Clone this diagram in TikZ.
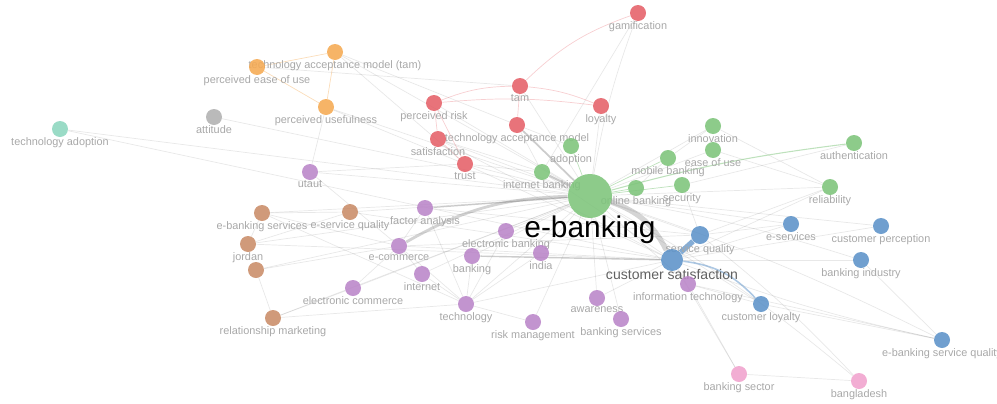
\documentclass[tikz,border=0pt]{standalone}
\usepackage{fontspec}
\setmainfont{Liberation Sans}
\usetikzlibrary{calc}
\definecolor{cred}{RGB}{229,96,104}
\definecolor{cgreen}{RGB}{125,196,122}
\definecolor{cblue}{RGB}{92,146,200}
\definecolor{cpurple}{RGB}{186,133,200}
\definecolor{corange}{RGB}{245,170,82}
\definecolor{cbrown}{RGB}{201,140,104}
\definecolor{cpink}{RGB}{240,162,205}
\definecolor{cteal}{RGB}{140,214,190}
\definecolor{cgray}{RGB}{176,176,176}
\definecolor{labelgray}{RGB}{168,168,168}
\pgfdeclarelayer{bg}
\pgfsetlayers{bg,main}
\tikzset{%
  kwnode/.style={circle, inner sep=0pt, minimum size=3.2mm, fill=#1, fill opacity=0.88, label distance=-0.6pt},
  kwlabel/.style={font=\fontsize{6.2}{7}\selectfont, text=labelgray, inner sep=0pt, fill opacity=1, text opacity=1},
  kwlink/.style={draw=gray, opacity=0.18, line width=0.4pt},
  kwstrong/.style={draw=gray, opacity=0.4, line width=#1},
}

\begin{document}
\begin{tikzpicture}[x=0.02cm, y=-0.02cm]
  \useasboundingbox (0,0) rectangle (997,403);
  % red cluster
  \node[kwnode=cred, label={[kwlabel]below:gamification}] (gam) at (638,13) {};
  \node[kwnode=cred, label={[kwlabel]below:perceived risk}] (prisk) at (434,103) {};
  \node[kwnode=cred, label={[kwlabel]below:tam}] (tam) at (520,86) {};
  \node[kwnode=cred, label={[kwlabel]below:loyalty}] (loy) at (601,106) {};
  \node[kwnode=cred, label={[kwlabel]below:technology acceptance model}] (tacc) at (517,125) {};
  \node[kwnode=cred, label={[kwlabel]below:satisfaction}] (sat) at (438,139) {};
  \node[kwnode=cred, label={[kwlabel]below:trust}] (trust) at (465,164) {};
  % orange, grey, teal
  \node[kwnode=corange, label={[kwlabel]below:technology acceptance model (tam)}] (tamm) at (335,52) {};
  \node[kwnode=corange, label={[kwlabel]below:perceived ease of use}] (peou) at (257,67) {};
  \node[kwnode=corange, label={[kwlabel]below:perceived usefulness}] (pu) at (326,107) {};
  \node[kwnode=cgray, label={[kwlabel]below:attitude}] (att) at (214,117) {};
  \node[kwnode=cteal, label={[kwlabel]below:technology adoption}] (tad) at (60,129) {};
  % green cluster
  \node[kwnode=cgreen, label={[kwlabel]below:adoption}] (adopt) at (571,146) {};
  \node[kwnode=cgreen, label={[kwlabel]below:innovation}] (innov) at (713,126) {};
  \node[kwnode=cgreen, label={[kwlabel]below:ease of use}] (eou) at (713,150) {};
  \node[kwnode=cgreen, label={[kwlabel]below:mobile banking}] (mob) at (668,158) {};
  \node[kwnode=cgreen, label={[kwlabel]below:authentication}] (auth) at (854,143) {};
  \node[kwnode=cgreen, label={[kwlabel]below:internet banking}] (ib) at (542,172) {};
  \node[kwnode=cgreen, label={[kwlabel]below:online banking}] (ob) at (636,188) {};
  \node[kwnode=cgreen, label={[kwlabel]below:security}] (sec) at (682,185) {};
  \node[kwnode=cgreen, label={[kwlabel]below:reliability}] (rel) at (830,187) {};
  \node[kwnode=cgreen, minimum size=8.8mm, label={[kwlabel, font=\fontsize{17}{19}\selectfont, text=black, label distance=-1.7pt]below:e-banking}] (eb) at (590,196) {};
  % brown cluster
  \node[kwnode=cbrown, label={[kwlabel]below:e-banking services}] (ebs) at (262,213) {};
  \node[kwnode=cbrown, label={[kwlabel]below:e-service quality}] (esq) at (350,212) {};
  \node[kwnode=cbrown, label={[kwlabel]below:jordan}] (jor) at (248,244) {};
  \node[kwnode=cbrown] (brn) at (256,270) {};
  \node[kwnode=cbrown, label={[kwlabel]below:relationship marketing}] (rm) at (273,318) {};
  % purple cluster
  \node[kwnode=cpurple, label={[kwlabel]below:utaut}] (utaut) at (310,172) {};
  \node[kwnode=cpurple, label={[kwlabel]below:factor analysis}] (fa) at (425,208) {};
  \node[kwnode=cpurple, label={[kwlabel]below:electronic banking}] (elb) at (506,231) {};
  \node[kwnode=cpurple, label={[kwlabel]below:e-commerce}] (ecom) at (399,246) {};
  \node[kwnode=cpurple, label={[kwlabel]below:banking}] (bank) at (472,256) {};
  \node[kwnode=cpurple, label={[kwlabel]below:india}] (india) at (541,253) {};
  \node[kwnode=cpurple, label={[kwlabel]below:internet}] (inet) at (422,274) {};
  \node[kwnode=cpurple, label={[kwlabel]below:electronic commerce}] (elc) at (353,288) {};
  \node[kwnode=cpurple, label={[kwlabel]below:technology}] (tech) at (466,304) {};
  \node[kwnode=cpurple, label={[kwlabel]below:risk management}] (risk) at (533,322) {};
  \node[kwnode=cpurple, label={[kwlabel]below:awareness}] (aware) at (597,298) {};
  \node[kwnode=cpurple, label={[kwlabel]below:banking services}] (bs) at (621,319) {};
  % blue cluster
  \node[kwnode=cblue, minimum size=3.6mm, label={[kwlabel]below:service quality}] (sq) at (700,235) {};
  \node[kwnode=cblue, minimum size=4.4mm, label={[kwlabel, font=\fontsize{8}{9}\selectfont, text=black!62, label distance=-1.5pt]below:customer satisfaction}] (cs) at (672,260) {};
  \node[kwnode=cpurple, label={[kwlabel]below:information technology}] (it) at (688,284) {};
  \node[kwnode=cblue, label={[kwlabel]below:e-services}] (eserv) at (791,224) {};
  \node[kwnode=cblue, label={[kwlabel]below:customer perception}] (cp) at (881,226) {};
  \node[kwnode=cblue, label={[kwlabel]below:banking industry}] (bi) at (861,260) {};
  \node[kwnode=cblue, label={[kwlabel]below:customer loyalty}] (cl) at (761,304) {};
  \node[kwnode=cblue, label={[kwlabel]below:e-banking service quality}] (ebsq) at (942,340) {};
  % pink cluster
  \node[kwnode=cpink, label={[kwlabel]below:banking sector}] (bsec) at (739,374) {};
  \node[kwnode=cpink, label={[kwlabel]below:bangladesh}] (bgd) at (859,381) {};

  \begin{pgfonlayer}{bg}
    % faint co-occurrence links
    \draw[kwlink] (eb) edge[bend left=5] (gam) edge (tam) edge (loy) edge (prisk) edge (sat) edge (trust)
      edge (innov) edge (eou) edge (rel) edge (eserv) edge (cp) edge[bend left=4] (bi) edge (sq) edge (cl)
      edge (it) edge (aware) edge (bs) edge (risk) edge (tech) edge (india) edge (bank) edge (elb)
      edge (inet) edge (utaut) edge (esq) edge (ebs) edge (jor) edge (brn) edge (tad) edge (att)
      edge (pu) edge (elc) edge (rm) edge[bend left=5] (bgd) edge[bend left=4] (ebsq) edge (tamm);
    \draw[kwlink] (cs) edge (eserv) edge (cp) edge (bi) edge[bend right=4] (ebsq) edge (trust) edge (sat)
      edge (esq) edge (jor) edge (tech) edge (it) edge (aware) edge (tad) edge (rel) edge (bsec)
      edge (ecom) edge (ib);
    \draw[kwlink] (sq) edge[bend left=4] (bgd) edge (eserv) edge (rel) edge (sec) edge (ecom) edge (fa);
    \draw[kwlink] (tech) edge (bank) edge (inet) edge (india) edge (risk) edge (elb) edge (ebs) edge (fa) edge (ecom);
    \draw[kwlink] (ecom) edge (fa) edge (inet) edge (elc) edge (utaut) edge (ebs);
    \draw[kwlink] (jor) edge (esq) edge (ebs) (ebs) edge (esq) (brn) edge (rm) edge (ecom) (rm) edge (elc) edge (tech);
    \draw[kwlink] (bsec) edge (bgd) edge (it) (ebsq) edge (it) edge (cl) edge (bi) (cl) edge (it);
    \draw[kwlink] (ob) edge (mob) (mob) edge (innov) (sec) edge (auth) (eou) edge (rel) (innov) edge (rel);
    \draw[kwlink] (adopt) edge (tacc) (ib) edge (tacc) edge (trust) edge (sat) (gam) edge (ib);
    \draw[kwlink] (utaut) edge (pu) edge (trust) (pu) edge (trust) (tamm) edge (tacc) edge (trust) (peou) edge (tam);
    % links coloured by cluster
    \draw[kwlink, draw=cred, opacity=0.3] (tam) edge[bend left=12] (gam) edge (tacc) edge[bend left=8] (loy)
      (prisk) edge[bend left=10] (tam) edge (sat) edge (trust) edge[bend left=6] (loy) (sat) edge (trust);
    \draw[kwlink, draw=corange, opacity=0.4] (tamm) edge (peou) edge (pu) (peou) edge (pu);
    \draw[kwlink, draw=cgreen, opacity=0.5] (eb) edge (adopt) edge (ob) edge (mob) edge (sec)
      edge[bend left=4, line width=0.6pt] (auth);
    % strongest links
    \draw[kwstrong=1.2pt] (eb) -- (ib);
    \draw[kwstrong=1pt] (eb) -- (tacc);
    \draw[kwstrong=0.7pt] (eb) -- (fa);
    \draw[kwstrong=0.8pt] (bank) -- (cs);
    \draw[kwstrong=1.6pt, opacity=0.35] (ecom) to[bend left=14] (eb);
    \draw[kwstrong=3pt, opacity=0.33] (eb) to[bend left=22] (cs);
    \draw[draw=cblue, opacity=0.75, line width=3pt] (sq) -- (cs);
    \draw[draw=cblue, opacity=0.5, line width=0.9pt] (cs) to[bend left=20] (cl);
  \end{pgfonlayer}
\end{tikzpicture}
\end{document}
